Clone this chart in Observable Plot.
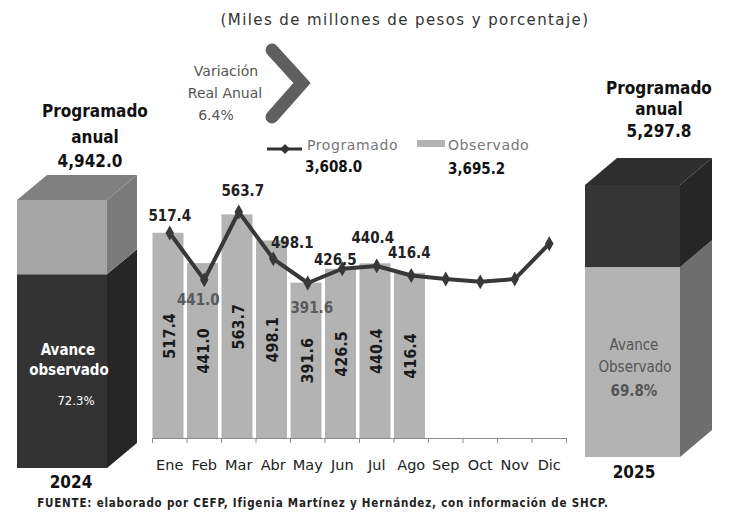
<!DOCTYPE html>
<html><head><meta charset="utf-8">
<script src="https://cdn.jsdelivr.net/npm/d3@7"></script>
<script src="https://cdn.jsdelivr.net/npm/@observablehq/plot@0.6"></script>
<style>
body{margin:0;background:#fff;}
#wrap{position:relative;width:733px;height:512px;overflow:hidden;background:#fff;}
#wrap > svg, #wrap > figure{position:absolute;margin:0;}
</style></head><body><div id="wrap"></div>
<script>
// ---- data ----
const months = ["Ene","Feb","Mar","Abr","May","Jun","Jul","Ago","Sep","Oct","Nov","Dic"];
const programado = [518, 400, 571, 453, 392, 428, 435, 411, 402, 395, 402, 491];
const observado = [517.4, 441.0, 563.7, 498.1, 391.6, 426.5, 440.4, 416.4];
const years = ["2024", "2025"];
const programadoAnual = [4942.0, 5297.8];
const avanceObservado = [72.3, 69.8];
const totalProgramado = 3608.0;
const totalObservado = 3695.2;
const variacionReal = 6.4;
const labelsBelow = ["Feb", "May"];

// ---- layout (label nudges in pixels, relative to the line point) ----
const labelNudge = {Ene: [0, -17], Feb: [-6, 20], Mar: [4, -21], Abr: [19, -16],
  May: [4, 25], Jun: [-7, -9], Jul: [-4, -28], Ago: [-2, -22]};

const fmt1 = d3.format(",.1f");
const wrap = document.getElementById("wrap");
const condBold = "'DejaVu Sans Condensed','DejaVu Sans',sans-serif";
const plain = "'DejaVu Sans',sans-serif";

function place(el, left, top) {
  el.style.position = "absolute";
  el.style.left = left + "px";
  el.style.top = top + "px";
  wrap.appendChild(el);
}

// ---- main chart ----
const W = 440, H = 300, ML = 12, MR = 14, MT = 30, MB = 32;
const yMax = 600;
const pxPerX = (W - ML - MR) / 12, pxPerY = (H - MT - MB) / yMax;
const obsData = observado.map((v, i) => ({i, m: months[i], v}));
const progData = programado.map((v, i) => ({i, m: months[i], v}));
const labX = d => d.i + 0.5 + labelNudge[d.m][0] / pxPerX;
const labY = d => programado[d.i] - labelNudge[d.m][1] / pxPerY;
const mainPlot = Plot.plot({
  width: W, height: H, marginLeft: ML, marginRight: MR, marginTop: MT, marginBottom: MB,
  x: {domain: [0, 12]},
  y: {domain: [0, yMax], axis: null},
  style: {background: "transparent", overflow: "visible"},
  marks: [
    Plot.rectY(obsData, {x1: d => d.i, x2: d => d.i + 1, y: "v", fill: "#b3b3b3", insetLeft: 0.5, insetRight: 3}),
    Plot.ruleY([0], {stroke: "#8a8a8a"}),
    Plot.axisX({ticks: d3.range(13), tickSize: 5, tickFormat: () => "", stroke: "#8a8a8a", strokeOpacity: 1}),
    Plot.text(months, {x: (d, i) => i + 0.5, y: 0, dy: 27, text: d => d, fontSize: 14.5, fontFamily: plain, fill: "#222"}),
    Plot.text(obsData, {x: d => d.i + 0.5, y: d => d.v / 2, text: d => d.v.toFixed(1), rotate: -90,
      fontSize: 16, fontWeight: "bold", fontFamily: condBold, fill: "#1a1a1a"}),
    Plot.line(progData, {x: d => d.i + 0.5, y: "v", stroke: "#383838", strokeWidth: 4}),
    Plot.dot(progData, {x: d => d.i + 0.5, y: "v", symbol: "diamond", r: 4.5, fill: "#383838"}),
    Plot.text(obsData.filter(d => !labelsBelow.includes(d.m)), {
      x: labX, y: labY, text: d => d.v.toFixed(1), fontSize: 15, fontWeight: "bold", fontFamily: condBold, fill: "#222"}),
    Plot.text(obsData.filter(d => labelsBelow.includes(d.m)), {
      x: labX, y: labY, text: d => d.v.toFixed(1), fontSize: 15, fontWeight: "bold", fontFamily: condBold, fill: "#5a5a5a"})
  ]
});
place(mainPlot, 140, 170);

// ---- 3D boxes ----
function box({frontW, frontH, dxPx, dyPx, pct, lowFront, highFront, lowSide, highSide, topFill}) {
  const kx = dxPx / frontW, ky = dyPx / frontH * 100, p = pct;
  return Plot.plot({
    width: frontW + dxPx, height: frontH + dyPx, margin: 0,
    x: {domain: [0, 1 + kx], axis: null},
    y: {domain: [0, 100 + ky], axis: null},
    style: {background: "transparent"},
    marks: [
      Plot.rect([p], {x1: 0, x2: 1, y1: 0, y2: d => d, fill: lowFront}),
      Plot.rect([p], {x1: 0, x2: 1, y1: d => d, y2: 100, fill: highFront}),
      Plot.areaY([{x: 1, a: 0, b: p}, {x: 1 + kx, a: ky, b: p + ky}], {x: "x", y1: "a", y2: "b", fill: lowSide, curve: "linear"}),
      Plot.areaY([{x: 1, a: p, b: 100}, {x: 1 + kx, a: p + ky, b: 100 + ky}], {x: "x", y1: "a", y2: "b", fill: highSide, curve: "linear"}),
      Plot.areaY([{x: 0, a: 100, b: 100}, {x: kx, a: 100, b: 100 + ky}, {x: 1, a: 100, b: 100 + ky}, {x: 1 + kx, a: 100 + ky, b: 100 + ky}],
        {x: "x", y1: "a", y2: "b", fill: topFill, curve: "linear"})
    ]
  });
}
place(box({frontW: 90, frontH: 268, dxPx: 30, dyPx: 25, pct: avanceObservado[0],
  lowFront: "#333333", highFront: "#a6a6a6", lowSide: "#262626", highSide: "#7a7a7a", topFill: "#808080"}), 17, 175);
place(box({frontW: 95, frontH: 272, dxPx: 32, dyPx: 27, pct: avanceObservado[1],
  lowFront: "#b3b3b3", highFront: "#353535", lowSide: "#6e6e6e", highSide: "#262626", topFill: "#2e2e2e"}), 585, 158);

// ---- overlay texts ----
const ov = d3.create("svg").attr("width", 733).attr("height", 512)
  .style("position", "absolute").style("left", "0px").style("top", "0px").style("pointer-events", "none");
function t(x, y, str, o = {}) {
  ov.append("text").attr("x", x).attr("y", y).attr("text-anchor", o.anchor || "middle")
    .attr("font-family", o.family || plain).attr("font-size", o.size || 14)
    .attr("font-weight", o.weight || "normal").attr("fill", o.fill || "#222")
    .attr("letter-spacing", o.ls || 0).text(str);
}
t(405, 25, "(Miles de millones de pesos y porcentaje)", {size: 15, fill: "#333", ls: 1.4});
t(226, 76, "Variación", {size: 14, fill: "#555"});
t(225, 98, "Real Anual", {size: 14, fill: "#555"});
t(216, 120, variacionReal.toFixed(1) + "%", {size: 14, fill: "#555"});
ov.append("polyline").attr("points", "272,50 302,83 272,117").attr("fill", "none")
  .attr("stroke", "#5f5f5f").attr("stroke-width", 13).attr("stroke-linecap", "round");

// legend
ov.append("line").attr("x1", 267).attr("x2", 302).attr("y1", 149).attr("y2", 149).attr("stroke", "#333").attr("stroke-width", 3);
ov.append("path").attr("d", "M285,144L290,149L285,154L280,149Z").attr("fill", "#333");
t(307, 150, "Programado", {anchor: "start", size: 14, fill: "#777", ls: 0.6});
ov.append("rect").attr("x", 417).attr("y", 140).attr("width", 28).attr("height", 7).attr("fill", "#b3b3b3");
t(448, 150, "Observado", {anchor: "start", size: 14, fill: "#777", ls: 0.6});
t(305, 172, fmt1(totalProgramado), {anchor: "start", size: 15, weight: "bold", family: condBold, fill: "#111"});
t(448, 174, fmt1(totalObservado), {anchor: "start", size: 15, weight: "bold", family: condBold, fill: "#111"});

// left annual
t(95, 117, "Programado", {size: 17, weight: "bold", family: condBold, fill: "#111"});
t(95, 143, "anual", {size: 17, weight: "bold", family: condBold, fill: "#111"});
t(90, 167, fmt1(programadoAnual[0]), {size: 17, weight: "bold", family: condBold, fill: "#111"});
// right annual
t(659, 94, "Programado", {size: 17, weight: "bold", family: condBold, fill: "#111"});
t(659, 115, "anual", {size: 17, weight: "bold", family: condBold, fill: "#111"});
t(659, 137, fmt1(programadoAnual[1]), {size: 17, weight: "bold", family: condBold, fill: "#111"});

// box texts
t(68, 355, "Avance", {size: 15, weight: "bold", family: condBold, fill: "#fff"});
t(69, 375, "observado", {size: 15, weight: "bold", family: condBold, fill: "#fff"});
t(76, 405, avanceObservado[0].toFixed(1) + "%", {size: 13, family: condBold, fill: "#fff"});
t(634, 350, "Avance", {size: 15, family: condBold, fill: "#555"});
t(635, 372, "Observado", {size: 15, family: condBold, fill: "#555"});
t(634, 396, avanceObservado[1].toFixed(1) + "%", {size: 15, weight: "bold", family: condBold, fill: "#555"});
t(71, 488, years[0], {size: 17, weight: "bold", family: condBold, fill: "#111"});
t(634, 478, years[1], {size: 17, weight: "bold", family: condBold, fill: "#111"});

// footnote
t(323, 507, "FUENTE: elaborado por CEFP, Ifigenia Martínez y Hernández, con información de SHCP.",
  {size: 11.5, weight: "bold", family: condBold, fill: "#222", ls: 0.8});

wrap.appendChild(ov.node());
</script></body></html>
